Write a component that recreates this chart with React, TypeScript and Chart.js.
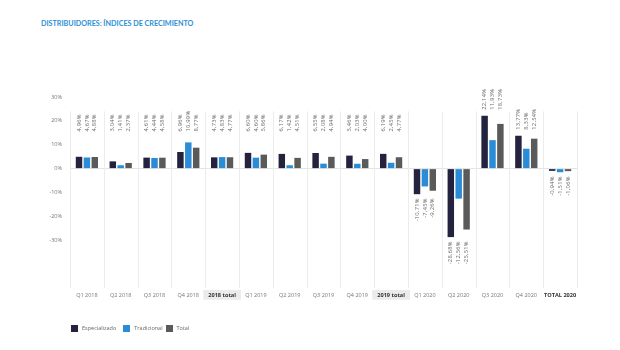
import React, { useEffect, useRef } from "react";
import { Chart, registerables } from "chart.js";

Chart.register(...registerables);

const categories = ["Q1 2018", "Q2 2018", "Q3 2018", "Q4 2018", "2018 total", "Q1 2019", "Q2 2019", "Q3 2019", "Q4 2019", "2019 total", "Q1 2020", "Q2 2020", "Q3 2020", "Q4 2020", "TOTAL 2020"];
const especializado = [4.96, 3.04, 4.61, 6.96, 4.73, 6.6, 6.17, 6.55, 5.46, 6.19, -10.71, -28.68, 22.14, 13.77, -0.94];
const tradicional = [4.67, 1.41, 4.44, 10.99, 4.83, 4.6, 1.42, 2.08, 2.03, 2.45, -7.45, -12.56, 11.93, 8.33, -1.51];
const total = [4.88, 2.37, 4.58, 8.77, 4.77, 5.86, 4.51, 4.94, 4.0, 4.77, -9.26, -25.51, 18.73, 12.54, -1.06];
const seriesNames = ["Especializado", "Tradicional", "Total"];
const colors = ["#23223f", "#2a8cd6", "#5a5a5a"];
const yMin = -50;
const yMax = 30;
const gridTopValue = 24;
const labelBaseValue = 15.5;
const boxedCategories = ["2018 total", "2019 total"];
const boldCategories = ["2018 total", "2019 total", "TOTAL 2020"];

const FONT = "'Open Sans', sans-serif";

const fmt = (v: number) => v.toFixed(2).replace(".", ",") + "%";

const customPlugin = {
  id: "custom",
  beforeDatasetsDraw(chart: any) {
    const { ctx, chartArea, scales } = chart;
    const y = scales.y;
    const n = categories.length;
    const w = (chartArea.right - chartArea.left) / n;
    const top = y.getPixelForValue(gridTopValue);
    ctx.save();
    ctx.strokeStyle = "#ececec";
    ctx.lineWidth = 1;
    for (let i = 0; i <= n; i++) {
      const px = Math.round(chartArea.left + i * w) + 0.5;
      ctx.beginPath();
      ctx.moveTo(px, top);
      ctx.lineTo(px, chartArea.bottom);
      ctx.stroke();
    }
    ctx.restore();
  },
  afterDatasetsDraw(chart: any) {
    const { ctx, scales } = chart;
    const y = scales.y;
    ctx.save();
    ctx.fillStyle = "#6a6a6a";
    ctx.font = `5.8px ${FONT}`;
    (ctx as any).letterSpacing = "0.25px";
    ctx.textBaseline = "middle";
    for (let i = 0; i < categories.length; i++) {
      const vals = chart.data.datasets.map((d: any) => d.data[i] as number);
      const allNeg = vals.every((v: number) => v < 0);
      if (!allNeg) {
        const gMax = Math.max(...vals);
        const anchor = Math.min(y.getPixelForValue(labelBaseValue), y.getPixelForValue(gMax) - 6);
        vals.forEach((v: number, d: number) => {
          const bar = chart.getDatasetMeta(d).data[i];
          ctx.save();
          ctx.translate(bar.x, anchor);
          ctx.rotate(-Math.PI / 2);
          ctx.textAlign = "left";
          ctx.fillText(fmt(v), 0, 0);
          ctx.restore();
        });
      } else {
        const gMin = Math.min(...vals);
        const anchor = y.getPixelForValue(gMin) + 4;
        vals.forEach((v: number, d: number) => {
          const bar = chart.getDatasetMeta(d).data[i];
          ctx.save();
          ctx.translate(bar.x, anchor);
          ctx.rotate(-Math.PI / 2);
          ctx.textAlign = "right";
          ctx.fillText(fmt(v), 0, 0);
          ctx.restore();
        });
      }
    }
    ctx.restore();
  },
};

export default function App() {
  const ref = useRef<HTMLCanvasElement | null>(null);
  useEffect(() => {
    if (!ref.current) return;
    const chart = new Chart(ref.current, {
      type: "bar",
      data: {
        labels: categories,
        datasets: [especializado, tradicional, total].map((data, k) => ({
          label: seriesNames[k],
          data,
          backgroundColor: colors[k],
          borderWidth: 0,
          categoryPercentage: 0.7,
          barPercentage: 0.82,
        })),
      },
      options: {
        animation: false,
        responsive: true,
        maintainAspectRatio: false,
        layout: { padding: { top: 97, right: 43, left: 0, bottom: 0 } },
        plugins: { legend: { display: false }, tooltip: { enabled: false }, title: { display: false } },
        scales: {
          x: {
            grid: { display: false, drawTicks: false },
            border: { display: false },
            afterFit: (s: any) => {
              s.height = 62;
            },
            ticks: {
              padding: 4,
              autoSkip: false,
              maxRotation: 0,
              color: (c: any) => (boldCategories.includes(categories[c.index]) ? "#333" : "#777"),
              font: (c: any) => ({
                family: FONT,
                size: boldCategories.includes(categories[c.index]) ? 5.6 : 5.5,
                weight: boldCategories.includes(categories[c.index]) ? "bold" : "normal",
              }),
              showLabelBackdrop: (c: any) => boxedCategories.includes(categories[c.index]),
              backdropColor: "#ebebeb",
              backdropPadding: { top: 2, bottom: 1, left: 5, right: 5 },
            } as any,
          },
          y: {
            min: yMin,
            max: yMax,
            afterFit: (s: any) => {
              s.width = 70;
            },
            grid: {
              drawTicks: false,
              color: (c: any) => (c.tick && c.tick.value === 0 ? "#e4e4e4" : "rgba(0,0,0,0)"),
            },
            border: { display: false },
            ticks: {
              stepSize: 10,
              padding: 8,
              color: "#777",
              font: { family: FONT, size: 5.5 },
              callback: (v: any) => (v < -30 ? "" : v + "%"),
            },
          },
        },
      },
      plugins: [customPlugin],
    });
    return () => chart.destroy();
  }, []);

  return (
    <div style={{ position: "fixed", left: 0, top: 0, width: 620, height: 350, background: "#fff" }}>
      <div
        style={{
          position: "absolute",
          left: 41,
          top: 19,
          fontFamily: "Lato, sans-serif",
          fontWeight: 700,
          fontSize: 7.2,
          color: "#2d8fd6",
          letterSpacing: 0,
          whiteSpace: "nowrap",
        }}
      >
        DISTRIBUIDORES: ÍNDICES DE CRECIMIENTO
      </div>
      <canvas ref={ref} style={{ position: "absolute", left: 0, top: 0, width: 620, height: 350 }} />
      <div
        style={{
          position: "absolute",
          left: 71,
          top: 324,
          display: "flex",
          alignItems: "center",
          fontFamily: FONT,
          fontSize: 5.5,
          color: "#666",
        }}
      >
        {seriesNames.map((n, k) => (
          <div key={n} style={{ display: "flex", alignItems: "center", marginRight: k === 0 ? 7 : 3 }}>
            <div style={{ width: 7, height: 7, background: colors[k], marginRight: 4 }} />
            <span>{n}</span>
          </div>
        ))}
      </div>
    </div>
  );
}
